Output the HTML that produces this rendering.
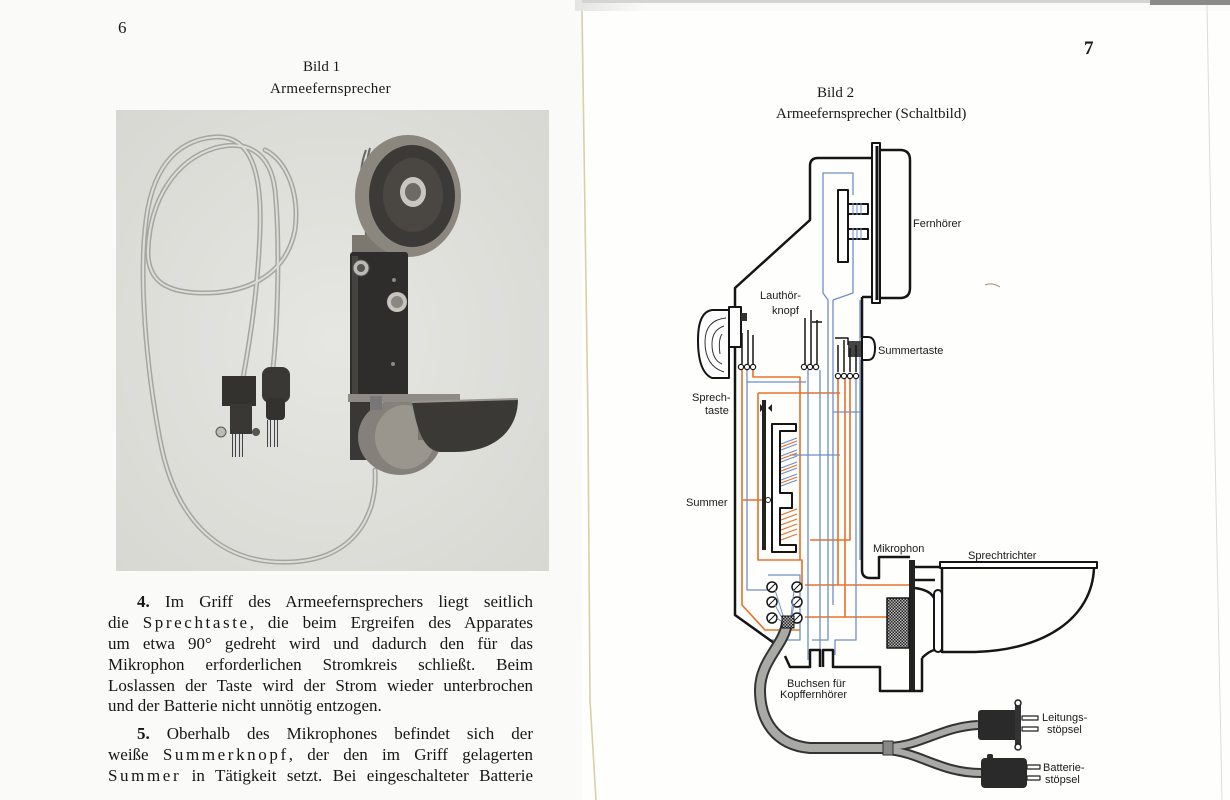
<!DOCTYPE html>
<html><head><meta charset="utf-8">
<style>
html,body{margin:0;padding:0}
body{width:1230px;height:800px;position:relative;overflow:hidden;background:#fafaf8;font-family:"Liberation Serif",serif;color:#1a1a1a}
.t{position:absolute;white-space:nowrap;line-height:20px}
.ln{position:absolute;width:425px;left:108px;font-size:17px;line-height:20px;text-align:justify;text-align-last:justify;white-space:nowrap;color:#161616}
.ln.i{left:137px;width:396px}
.sp{letter-spacing:2.6px}
svg{position:absolute;left:0;top:0}
</style></head><body>
<svg width="1230" height="800" viewBox="0 0 1230 800">
<defs>
<pattern id="chk" width="3" height="3" patternUnits="userSpaceOnUse"><rect width="3" height="3" fill="#bbb"/><rect width="1.5" height="1.5" fill="#222"/><rect x="1.5" y="1.5" width="1.5" height="1.5" fill="#222"/></pattern>
<linearGradient id="gtop" x1="0" x2="1"><stop offset="0" stop-color="#e4e4e2"/><stop offset="1" stop-color="#fafaf8"/></linearGradient>
<radialGradient id="ph" cx="0.5" cy="0.5" r="0.7"><stop offset="0" stop-color="#e6e6e2"/><stop offset="1" stop-color="#d8d8d3"/></radialGradient>
</defs>
<!-- pages -->
<rect x="582" y="11" width="648" height="789" fill="#fefefd"/>
<rect x="575" y="0" width="70" height="11" fill="url(#gtop)"/>
<rect x="582" y="0" width="648" height="3" fill="#d4d4d2"/>
<rect x="1150" y="0" width="80" height="5" fill="#8a8a88"/>
<path d="M582 11 L588 420 L590 700 L596 800" stroke="#d9cfa6" stroke-width="1.6" fill="none"/>
<path d="M1207 5 L1214 400 L1222 800" stroke="#dcdcd6" stroke-width="1" fill="none"/>
<path d="M985 285 Q992 282 1000 287" stroke="#b08a70" stroke-width="1" fill="none"/>

<!-- photo -->
<rect x="116" y="110" width="433" height="461" fill="url(#ph)"/>
<!-- cords -->
<g fill="none" stroke-linecap="round">
<path d="M375 470 C378 520 350 560 290 562 C220 565 175 520 160 440 C145 360 140 280 145 230 C150 170 175 140 215 137 C250 135 262 170 260 230 C258 290 250 340 243 378" stroke="#a6a6a0" stroke-width="5"/>
<path d="M273 368 C278 320 280 240 275 190 C270 150 245 140 215 148 C175 160 150 200 148 250 C147 280 165 292 200 293 C240 294 285 280 295 230 C300 190 285 160 265 150" stroke="#a6a6a0" stroke-width="5"/>
<path d="M375 470 C378 520 350 560 290 562 C220 565 175 520 160 440 C145 360 140 280 145 230 C150 170 175 140 215 137 C250 135 262 170 260 230 C258 290 250 340 243 378" stroke="#dcdcd8" stroke-width="2"/>
<path d="M273 368 C278 320 280 240 275 190 C270 150 245 140 215 148 C175 160 150 200 148 250 C147 280 165 292 200 293 C240 294 285 280 295 230 C300 190 285 160 265 150" stroke="#dcdcd8" stroke-width="2"/>
</g>
<!-- plugs -->
<rect x="222" y="376" width="34" height="30" fill="#34322f"/>
<rect x="230" y="404" width="22" height="30" fill="#3a3835"/>
<circle cx="221" cy="432" r="5" fill="#bdbab4" stroke="#555"/>
<circle cx="256" cy="432" r="4" fill="#555"/>
<path d="M234 434 V457 M241 434 V457" stroke="#444" stroke-width="4"/>
<path d="M234 434 V457 M241 434 V457" stroke="#ddd" stroke-width="2"/>
<rect x="262" y="367" width="28" height="36" rx="8" fill="#3a3835"/>
<rect x="266" y="398" width="19" height="22" rx="4" fill="#34322f"/>
<path d="M269 420 V447 M276 420 V447" stroke="#444" stroke-width="4"/>
<path d="M269 420 V447 M276 420 V447" stroke="#ddd" stroke-width="2"/>
<!-- handset -->
<path d="M366 150 Q358 170 362 200 M370 148 Q362 175 366 235" stroke="#666" stroke-width="2" fill="none"/>
<rect x="352" y="235" width="56" height="22" fill="#7c776f"/>
<ellipse cx="408" cy="196" rx="53" ry="61" fill="#8c877e"/>
<ellipse cx="412" cy="196" rx="43" ry="51" fill="#3c3a37"/>
<ellipse cx="413" cy="195" rx="30" ry="37" fill="#4a4743"/>
<ellipse cx="413" cy="192" rx="13" ry="15" fill="#c8c6c0"/>
<ellipse cx="413" cy="192" rx="8" ry="9" fill="#6c6a66"/>
<rect x="350" y="252" width="58" height="150" rx="3" fill="#2f2d2b"/>
<rect x="352" y="256" width="6" height="140" fill="#454340"/>
<circle cx="361" cy="268" r="8" fill="#bdbab4" stroke="#555"/>
<circle cx="361" cy="268" r="4" fill="#555"/>
<circle cx="397" cy="302" r="10" fill="#c7c4be"/>
<circle cx="397" cy="302" r="6" fill="#8a8781"/>
<circle cx="394" cy="280" r="2" fill="#888"/>
<circle cx="393" cy="364" r="2" fill="#888"/>
<rect x="350" y="400" width="30" height="60" fill="#3a3835"/>
<ellipse cx="400" cy="437" rx="42" ry="38" fill="#85817a"/>
<ellipse cx="405" cy="437" rx="30" ry="32" fill="#9a968e"/>
<rect x="418" y="410" width="22" height="30" fill="#7a766f"/>
<rect x="348" y="394" width="112" height="8" fill="#8e8b85"/>
<rect x="370" y="396" width="12" height="14" fill="#777"/>
<path d="M412 402 L518 399 C518 430 495 452 455 452 L440 452 C425 450 418 435 412 402 Z" fill="#3b3936"/>
<path d="M412 402 L518 399" stroke="#9a968e" stroke-width="2"/>

<!-- ===== schematic ===== -->
<g fill="none" stroke-linejoin="round">
<!-- orange wires -->
<g stroke="#e8702a" stroke-width="1.6">
<path d="M742 370 V605 L765 630 H800"/>
<path d="M753 370 V377 H800 V420"/>
<path d="M758 393 H840"/>
<path d="M758 393 V560 H802 V585"/>
<path d="M800 420 V560"/>
<path d="M838 378 V585"/>
<path d="M845 378 V617"/>
<path d="M805 585 H910"/>
<path d="M805 617 H888"/>
<path d="M850 378 V540 H810"/>
<path d="M743 500 H763"/>
</g>
<!-- blue wires -->
<g stroke="#6f8fc4" stroke-width="1.3">
<path d="M823 293 V173 H853 V195"/>
<path d="M853 240 V293 L833 300"/>
<path d="M823 293 L828 300 V640 H812"/>
<path d="M833 300 V605"/>
<path d="M747 370 V590 H768"/>
<path d="M747 382 H806"/>
<path d="M808 370 V660"/>
<path d="M820 370 V650"/>
<path d="M856 378 V640 H835 V655"/>
<path d="M860 300 V560"/>
<path d="M833 412 H860"/>
<path d="M790 455 H840"/>
<path d="M768 575 H800 V640 H770"/>
</g>
<!-- summer coils -->
<g stroke-width="1.2">
<path d="M781 444 L797 438 M781 450 L797 444 M781 456 L797 450 M781 462 L797 456 M781 468 L797 462 M781 474 L797 468 M781 480 L797 474 M781 486 L797 480" stroke="#6f8fc4"/>
<path d="M781 447 L797 441 M781 459 L797 453 M781 471 L797 465 M781 483 L797 477" stroke="#e8702a"/>
<path d="M781 515 L797 509 M781 520 L797 514 M781 525 L797 519 M781 530 L797 524 M781 535 L797 529 M781 540 L797 534" stroke="#e8702a"/>
</g>
<!-- outline -->
<g stroke="#151515" stroke-width="2.5">
<path d="M872 158 H818 Q810 158 810 166 V220 L735 288 V307"/>
<path d="M735 347 V615 L781 648"/>
<path d="M785 656 L790 667 H810 V650 H820 V667 M823 667 V650 H833 V667 H880 V691 H922 V658"/>
<path d="M862 297 H872"/>
<path d="M862 297 V338 M862 360 V570 Q862 578 870 578 H879 V557 H910"/>
<path d="M880 150 H900 Q910 150 910 160 V288 Q910 298 900 298 H880"/>
<path d="M915 567 H942 M915 580 H935 M915 588 Q930 590 934 598 M922 658 Q928 652 934 650"/>
<path d="M942 568 V652 H975 C1045 650 1092 618 1094 568"/>
</g>
<rect x="872" y="143" width="8" height="160" fill="#fff" stroke="#151515" stroke-width="2"/>
<path d="M877 146 V300" stroke="#151515" stroke-width="3"/>
<rect x="934" y="590" width="8" height="62" rx="4" fill="#fff" stroke="#151515" stroke-width="2"/>
<rect x="940" y="562" width="157" height="6" fill="#fff" stroke="#151515" stroke-width="2"/>
<!-- earpiece magnet -->
<rect x="838" y="190" width="10" height="72" fill="#fff" stroke="#151515" stroke-width="2"/>
<rect x="848" y="204" width="20" height="10" fill="#fff" stroke="#151515" stroke-width="2"/>
<rect x="848" y="229" width="20" height="10" fill="#fff" stroke="#151515" stroke-width="2"/>
<path d="M853 203 V215 M857 203 V215 M861 203 V215 M853 228 V240 M857 228 V240 M861 228 V240" stroke="#6f8fc4" stroke-width="1"/>
<!-- sprechtaste knob -->
<rect x="729" y="307" width="12" height="40" fill="#fff" stroke="#151515" stroke-width="2"/>
<path d="M729 310 H712 Q698 312 698 340 Q698 372 712 378 H729 Z" fill="#fff" stroke="#151515" stroke-width="2"/>
<path d="M726 318 Q705 320 705 342 Q705 366 724 372 M724 326 Q712 330 712 344 Q712 360 722 364 M722 334 Q718 340 720 354" stroke="#333" stroke-width="1"/>
<rect x="741" y="313" width="6" height="8" fill="#333"/>
<!-- summertaste -->
<rect x="848" y="341" width="14" height="16" fill="#444"/>
<path d="M862 337 H868 Q875 337 875 348 Q875 360 868 360 H862 Z" fill="#fff" stroke="#151515" stroke-width="2"/>
<path d="M835 338 H848 V345" stroke="#151515" stroke-width="1.5"/>
<!-- contact springs -->
<g stroke="#151515" stroke-width="1.5">
<path d="M742 333 V364 M748 330 V364 M753 335 V364"/>
<path d="M805 318 V364 M811 310 V364 M817 320 V364 M812 322 H822"/>
<path d="M838 345 V372 M844 340 V372 M850 348 V372 M856 345 V372"/>
</g>
<g fill="#fff" stroke="#151515" stroke-width="1.2">
<circle cx="741" cy="367" r="2.6"/><circle cx="747" cy="367" r="2.6"/><circle cx="753" cy="367" r="2.6"/>
<circle cx="804" cy="367" r="2.6"/><circle cx="810" cy="367" r="2.6"/><circle cx="816" cy="367" r="2.6"/>
<circle cx="838" cy="376" r="2.6"/><circle cx="844" cy="376" r="2.6"/><circle cx="850" cy="376" r="2.6"/><circle cx="856" cy="376" r="2.6"/>
</g>
<!-- summer -->
<rect x="762" y="400" width="4" height="150" fill="#222"/>
<path d="M760 404 L764 408 L760 412 Z M772 404 L768 408 L772 412 Z" fill="#222"/>
<path d="M772 424 H796 V431 H780 V493 H792 V508 H780 V545 H796 V552 H772 Z" fill="#fff" stroke="#151515" stroke-width="2"/>
<circle cx="768" cy="500" r="2.5" fill="#fff" stroke="#151515"/>
<!-- mic -->
<rect x="909" y="560" width="6" height="130" fill="#222"/>
<rect x="887" y="598" width="22" height="50" fill="url(#chk)" stroke="#151515" stroke-width="1.5"/>
<!-- terminals -->
<g fill="#fff" stroke="#151515" stroke-width="1.5">
<circle cx="772" cy="587" r="5"/><circle cx="797" cy="587" r="5"/>
<circle cx="772" cy="602" r="5"/><circle cx="797" cy="602" r="5"/>
<circle cx="772" cy="618" r="5"/><circle cx="797" cy="618" r="5"/>
</g>
<path d="M769 590 L775 584 M794 590 L800 584 M769 605 L775 599 M794 605 L800 599 M769 621 L775 615 M794 621 L800 615" stroke="#151515" stroke-width="1"/>
<path d="M775 590 L786 625 M775 605 L786 625 M777 618 L786 625 M794 590 L790 625 M794 605 L790 625 M792 618 L790 625" stroke="#6f8fc4" stroke-width="1"/>
<!-- cable -->
<g stroke-linecap="butt">
<path d="M787 622 C785 645 760 660 760 690 C760 720 775 745 810 748 L886 748" stroke="#333" stroke-width="12"/>
<path d="M886 747 C920 747 940 727 978 725" stroke="#333" stroke-width="10"/>
<path d="M886 750 C920 752 940 773 981 773" stroke="#333" stroke-width="10"/>
<path d="M787 622 C785 645 760 660 760 690 C760 720 775 745 810 748 L886 748" stroke="#a9a9a6" stroke-width="8"/>
<path d="M886 747 C920 747 940 727 978 725" stroke="#a9a9a6" stroke-width="6"/>
<path d="M886 750 C920 752 940 773 981 773" stroke="#a9a9a6" stroke-width="6"/>
</g>
<rect x="883" y="741" width="10" height="14" fill="#888" stroke="#333" stroke-width="1"/>
<rect x="782" y="616" width="12" height="12" fill="url(#chk)" stroke="#151515" stroke-width="1"/>
<!-- plugs -->
<rect x="978" y="710" width="40" height="30" rx="3" fill="#2a2a2a"/>
<rect x="1015" y="704" width="6" height="42" fill="#333"/>
<circle cx="1018" cy="703" r="3" fill="#fff" stroke="#222" stroke-width="1.5"/>
<circle cx="1018" cy="747" r="3" fill="#fff" stroke="#222" stroke-width="1.5"/>
<rect x="1022" y="716" width="16" height="4" fill="#fff" stroke="#222" stroke-width="1.2"/>
<rect x="1022" y="727" width="16" height="4" fill="#fff" stroke="#222" stroke-width="1.2"/>
<rect x="981" y="758" width="46" height="30" rx="4" fill="#2a2a2a"/>
<rect x="987" y="754" width="6" height="5" rx="2" fill="#2a2a2a"/>
<rect x="1027" y="765" width="13" height="4" fill="#fff" stroke="#222" stroke-width="1.2"/>
<rect x="1027" y="776" width="13" height="4" fill="#fff" stroke="#222" stroke-width="1.2"/>
</g>
<!-- labels -->
<g font-family="Liberation Sans, sans-serif" font-size="11" fill="#1a1a1a">
<text x="913" y="227">Fernhörer</text>
<text x="760" y="299">Lauthör-</text>
<text x="772" y="314">knopf</text>
<text x="878" y="354">Summertaste</text>
<text x="692" y="401">Sprech-</text>
<text x="705" y="414">taste</text>
<text x="686" y="506">Summer</text>
<text x="873" y="552">Mikrophon</text>
<text x="968" y="559">Sprechtrichter</text>
<text x="787" y="687">Buchsen für</text>
<text x="780" y="698">Kopffernhörer</text>
<text x="1042" y="721">Leitungs-</text>
<text x="1047" y="733">stöpsel</text>
<text x="1043" y="771">Batterie-</text>
<text x="1045" y="783">stöpsel</text>
</g>
</svg>

<div class="t" style="left:118px;top:18px;font-size:17px">6</div>
<div class="t" style="left:303px;top:57px;font-size:15px">Bild 1</div>
<div class="t" style="left:270px;top:79px;font-size:15px;letter-spacing:0.3px">Armeefernsprecher</div>

<div class="t" style="left:1084px;top:39px;font-size:19px;font-weight:bold">7</div>
<div class="t" style="left:817px;top:83px;font-size:15px">Bild 2</div>
<div class="t" style="left:776px;top:104px;font-size:15px">Armeefernsprecher (Schaltbild)</div>

<div class="ln i" style="top:592px"><b>4.</b> Im Griff des Armeefernsprechers liegt seitlich</div>
<div class="ln" style="top:613px">die <span class="sp">Sprechtaste</span>, die beim Ergreifen des Apparates</div>
<div class="ln" style="top:634px">um etwa 90° gedreht wird und dadurch den für das</div>
<div class="ln" style="top:655px">Mikrophon erforderlichen Stromkreis schließt. Beim</div>
<div class="ln" style="top:676px">Loslassen der Taste wird der Strom wieder unterbrochen</div>
<div class="ln" style="top:696px;text-align:left;text-align-last:left">und der Batterie nicht unnötig entzogen.</div>
<div class="ln i" style="top:724px"><b>5.</b> Oberhalb des Mikrophones befindet sich der</div>
<div class="ln" style="top:745px">weiße <span class="sp">Summerknopf</span>, der den im Griff gelagerten</div>
<div class="ln" style="top:766px"><span class="sp">Summer</span> in Tätigkeit setzt. Bei eingeschalteter Batterie</div>
</body></html>
